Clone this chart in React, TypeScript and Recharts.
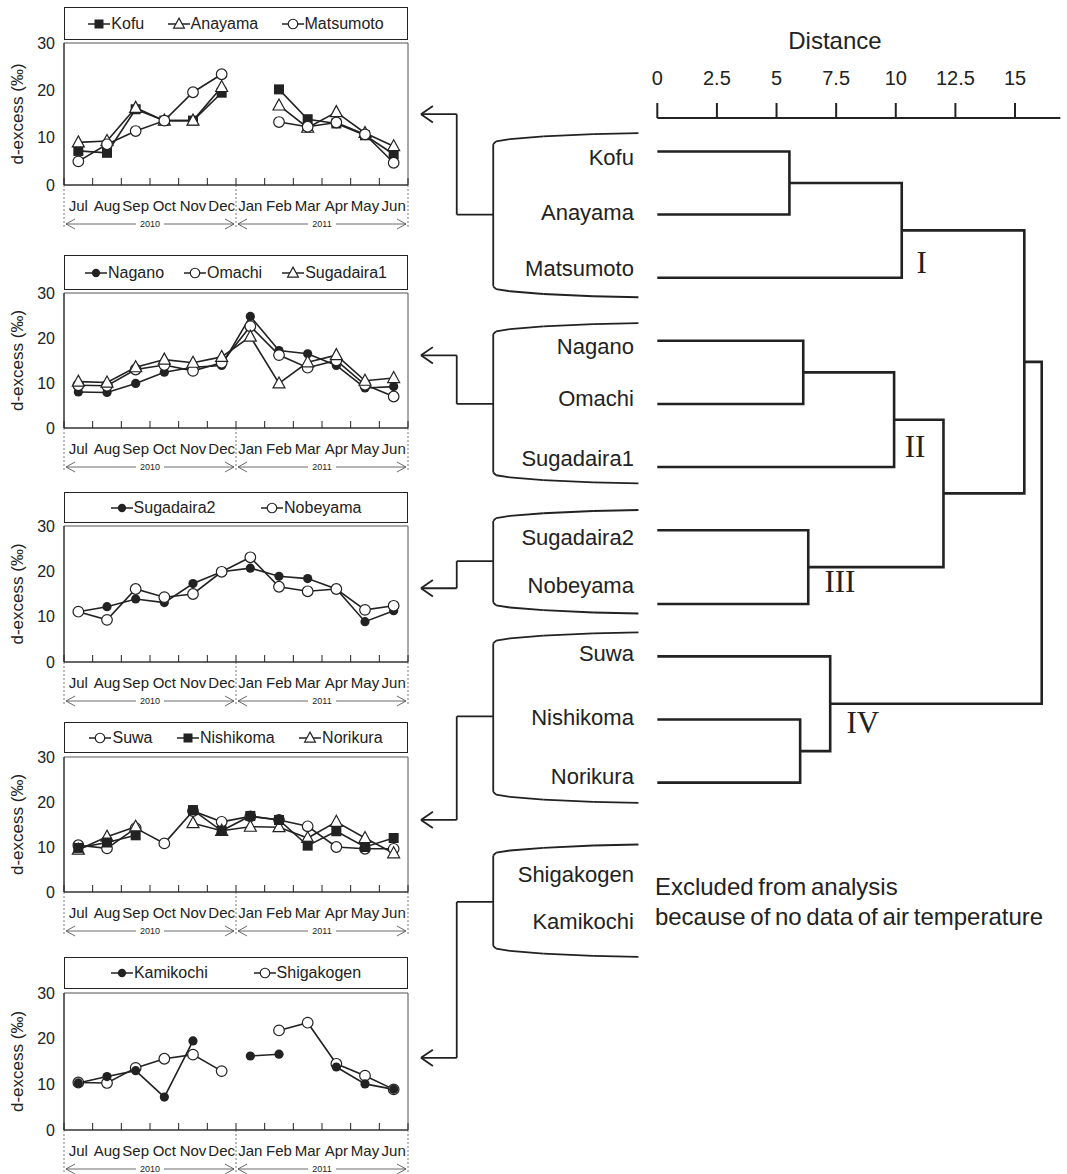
import React from 'react'
import {
  LineChart, ComposedChart, Line, XAxis, YAxis, Legend,
  ReferenceArea, ReferenceLine, ReferenceDot,
} from 'recharts'

const FONT = '"Liberation Sans", Arial, Helvetica, sans-serif'
const SERIF = '"Liberation Serif", "Times New Roman", serif'
const INK = '#222'

// ---------- monthly d-excess panels ----------
const months = ['Jul', 'Aug', 'Sep', 'Oct', 'Nov', 'Dec', 'Jan', 'Feb', 'Mar', 'Apr', 'May', 'Jun']
const years = ['2010', '2011']
const dTicks = [0, 10, 20, 30]
const monthEdges = [0, 1, 2, 3, 4, 5, 6, 7, 8, 9, 10, 11, 12]

const kofu = [7.2, 6.8, 16.0, 13.6, 13.6, 19.5, null, 20.2, 13.9, 13.0, 10.5, 6.5]
const anayama = [9.0, 9.3, 16.3, 13.6, 13.6, 20.7, null, 16.8, 12.1, 15.4, 11.0, 8.2]
const matsumoto = [5.0, 8.6, 11.4, 13.6, 19.6, 23.4, null, 13.3, 12.3, 13.2, 10.7, 4.7]

const nagano = [8.0, 7.9, 9.9, 12.4, 13.5, 13.9, 24.8, 17.2, 16.5, 13.9, 8.9, 9.2]
const omachi = [9.5, 9.4, 13.0, 14.0, 12.7, 14.5, 22.6, 16.2, 13.4, 15.0, 9.6, 7.0]
const sugadaira1 = [10.3, 10.1, 13.5, 15.2, 14.5, 15.8, 20.3, 9.9, 14.6, 16.2, 10.5, 11.1]

const sugadaira2 = [11.1, 12.2, 13.9, 13.1, 17.3, 19.9, 20.7, 18.9, 18.4, 16.1, 8.9, 11.3]
const nobeyama = [11.1, 9.3, 16.1, 14.3, 15.0, 19.9, 23.1, 16.6, 15.6, 16.1, 11.5, 12.4]

const suwa = [10.4, 9.7, 14.2, 10.8, 18.0, 15.6, 16.8, 16.0, 14.6, 10.0, 9.6, 9.6]
const nishikoma = [9.8, 11.0, 12.6, null, 18.2, 13.6, 16.9, 16.0, 10.3, 13.5, 10.0, 12.0]
const norikura = [9.4, 12.3, 14.5, null, 15.3, 13.6, 14.5, 14.4, 12.0, 15.6, 12.0, 8.6]

const kamikochi = [10.3, 11.7, 13.0, 7.2, 19.5, null, 16.2, 16.6, null, 13.8, 10.1, 8.9]
const shigakogen = [10.4, 10.3, 13.6, 15.6, 16.5, 12.9, null, 21.8, 23.5, 14.5, 11.9, 8.9]

type Marker = 'square' | 'triangle' | 'circle' | 'dot'
interface Series { name: string; values: (number | null)[]; marker: Marker }
interface PanelCfg { top: number; legendH: number; plotTop: number; plotH: number; series: Series[]; drawOrder: string[] }

const panels: PanelCfg[] = [
  {
    top: 7, legendH: 33, plotTop: 43, plotH: 142,
    series: [
      { name: 'Kofu', values: kofu, marker: 'square' },
      { name: 'Anayama', values: anayama, marker: 'triangle' },
      { name: 'Matsumoto', values: matsumoto, marker: 'circle' },
    ],
    drawOrder: ['Kofu', 'Anayama', 'Matsumoto'],
  },
  {
    top: 255, legendH: 35, plotTop: 293, plotH: 135,
    series: [
      { name: 'Nagano', values: nagano, marker: 'dot' },
      { name: 'Omachi', values: omachi, marker: 'circle' },
      { name: 'Sugadaira1', values: sugadaira1, marker: 'triangle' },
    ],
    drawOrder: ['Nagano', 'Omachi', 'Sugadaira1'],
  },
  {
    top: 492, legendH: 31, plotTop: 526, plotH: 136,
    series: [
      { name: 'Sugadaira2', values: sugadaira2, marker: 'dot' },
      { name: 'Nobeyama', values: nobeyama, marker: 'circle' },
    ],
    drawOrder: ['Sugadaira2', 'Nobeyama'],
  },
  {
    top: 722, legendH: 31, plotTop: 757, plotH: 135,
    series: [
      { name: 'Suwa', values: suwa, marker: 'circle' },
      { name: 'Nishikoma', values: nishikoma, marker: 'square' },
      { name: 'Norikura', values: norikura, marker: 'triangle' },
    ],
    drawOrder: ['Suwa', 'Norikura', 'Nishikoma'],
  },
  {
    top: 957, legendH: 32, plotTop: 993, plotH: 137,
    series: [
      { name: 'Kamikochi', values: kamikochi, marker: 'dot' },
      { name: 'Shigakogen', values: shigakogen, marker: 'circle' },
    ],
    drawOrder: ['Shigakogen', 'Kamikochi'],
  },
]

const PANEL_W = 420
const PANEL_LEFT = 14
const YAXIS_W = 50
const PANEL_RIGHT = 12
const PLOT_W = PANEL_W - PANEL_LEFT - YAXIS_W - PANEL_RIGHT
const BAND = PLOT_W / months.length
const XAXIS_H = 48

function Mark({ kind, cx, cy, s = 1 }: { kind: Marker; cx: number; cy: number; s?: number }) {
  switch (kind) {
    case 'square':
      return <rect x={cx - 5 * s} y={cy - 5 * s} width={10 * s} height={10 * s} fill={INK} />
    case 'triangle':
      return (
        <polygon
          points={`${cx},${cy - 6.5 * s} ${cx + 6 * s},${cy + 4.5 * s} ${cx - 6 * s},${cy + 4.5 * s}`}
          fill="#fff" stroke={INK} strokeWidth={1.2}
        />
      )
    case 'circle':
      return <circle cx={cx} cy={cy} r={5.3 * s} fill="#fff" stroke={INK} strokeWidth={1.2} />
    default:
      return <circle cx={cx} cy={cy} r={4.6 * s} fill={INK} />
  }
}

const dotFor = (kind: Marker) => (p: any) => {
  if (p.cx == null || p.cy == null || p.value == null) return <g key={`e${p.index}`} />
  return (
    <g key={`m${p.index}`}>
      <Mark kind={kind} cx={p.cx} cy={p.cy} />
    </g>
  )
}

function LegendBox({ series, h }: { series: Series[]; h: number }) {
  return (
    <div
      style={{
        boxSizing: 'border-box', width: PLOT_W, height: h, border: `1px solid ${INK}`,
        display: 'flex', alignItems: 'center', justifyContent: 'space-evenly',
        fontFamily: FONT, fontSize: 16, color: INK, background: '#fff',
      }}
    >
      {series.map((s) => (
        <span key={s.name} style={{ display: 'flex', alignItems: 'center', whiteSpace: 'nowrap' }}>
          <svg width={22} height={14} style={{ marginRight: 1 }}>
            <line x1={0} y1={7} x2={22} y2={7} stroke={INK} strokeWidth={1.5} />
            <Mark kind={s.marker} cx={11} cy={7} s={0.9} />
          </svg>
          {s.name}
        </span>
      ))}
    </div>
  )
}

// month labels sit between the boundary ticks; year arrows hang under the axis
function MonthTick({ x, payload, axisY }: any) {
  const v = payload.value as number
  const yr = axisY + 39
  return (
    <g>
      {v < months.length && (
        <text x={x + BAND / 2} y={axisY + 26} textAnchor="middle" fontSize={15} fontFamily={FONT} fill={INK}>
          {months[v]}
        </text>
      )}
      {v % 6 === 0 && (
        <line x1={x} y1={axisY} x2={x} y2={axisY + 44} stroke="#555" strokeWidth={0.8} strokeDasharray="2 2" />
      )}
      {v % 6 === 0 && v < months.length && (() => {
        const x0 = x + 2
        const x1 = x + 6 * BAND - 2
        const xm = (x0 + x1) / 2
        return (
          <g stroke="#444" strokeWidth={0.8} fill="none">
            <line x1={x0} y1={yr} x2={xm - 14} y2={yr} />
            <line x1={xm + 14} y1={yr} x2={x1} y2={yr} />
            <polyline points={`${x0 + 9},${yr - 5} ${x0},${yr} ${x0 + 9},${yr + 5}`} />
            <polyline points={`${x1 - 9},${yr - 5} ${x1},${yr} ${x1 - 9},${yr + 5}`} />
            <text x={xm} y={yr + 3} textAnchor="middle" fontSize={9} fontFamily={FONT} fill={INK} stroke="none">
              {years[v / 6]}
            </text>
          </g>
        )
      })()}
    </g>
  )
}

function Panel({ cfg }: { cfg: PanelCfg }) {
  const mTop = cfg.plotTop - cfg.top
  const height = mTop + cfg.plotH + XAXIS_H
  const axisY = mTop + cfg.plotH
  const data = months.map((m, i) => {
    const row: any = { x: i + 0.5, month: m }
    cfg.series.forEach((s) => { row[s.name] = s.values[i] })
    return row
  })
  const byName: Record<string, Series> = {}
  cfg.series.forEach((s) => { byName[s.name] = s })

  return (
    <div style={{ position: 'absolute', left: 0, top: cfg.top }}>
      <LineChart
        width={PANEL_W}
        height={height}
        data={data}
        margin={{ top: mTop, right: PANEL_RIGHT, bottom: 0, left: PANEL_LEFT }}
      >
        <XAxis
          type="number"
          dataKey="x"
          domain={[0, 12]}
          ticks={monthEdges}
          interval={0}
          tickSize={-7}
          tickMargin={0}
          height={XAXIS_H}
          axisLine={{ stroke: INK }}
          tickLine={{ stroke: INK }}
          tick={(p: any) => <MonthTick {...p} axisY={axisY} />}
        />
        <YAxis
          type="number"
          domain={[0, 30]}
          ticks={dTicks}
          width={YAXIS_W}
          tickLine={false}
          tickMargin={3}
          axisLine={{ stroke: INK }}
          tick={{ fontSize: 16, fill: INK, fontFamily: FONT }}
          label={{
            value: 'd-excess (‰)', angle: -90, position: 'insideLeft', offset: 3,
            style: { textAnchor: 'middle', fontSize: 17, fill: INK, fontFamily: FONT },
          }}
        />
        <ReferenceArea x1={0} x2={12} y1={0} y2={30} fill="none" stroke="#555" strokeWidth={1} ifOverflow="visible" />
        <Legend
          layout="horizontal"
          verticalAlign="middle"
          align="center"
          wrapperStyle={{ top: 0, left: PANEL_LEFT + YAXIS_W, width: PLOT_W, height: cfg.legendH }}
          content={() => <LegendBox series={cfg.series} h={cfg.legendH} />}
        />
        {cfg.drawOrder.map((n) => (
          <Line
            key={n}
            dataKey={n}
            type="linear"
            stroke={INK}
            strokeWidth={1.6}
            dot={dotFor(byName[n].marker)}
            activeDot={false}
            isAnimationActive={false}
          />
        ))}
      </LineChart>
    </div>
  )
}

// ---------- cluster dendrogram ----------
const leaves = ['Kofu', 'Anayama', 'Matsumoto', 'Nagano', 'Omachi', 'Sugadaira1', 'Sugadaira2', 'Nobeyama', 'Suwa', 'Nishikoma', 'Norikura']
const leafRows = [1, 2, 3, 4, 5, 6, 7, 8.17, 9, 10, 11]
const leafLabelRows = [1.1, 1.96, 2.86, 4.09, 4.91, 5.86, 7.11, 7.87, 8.96, 9.96, 10.91]
const excludedLeaves = ['Shigakogen', 'Kamikochi']
const excludedRows = [12.46, 13.2]
const excludedNote = ['Excluded from analysis', 'because of no data of air temperature']
const noteRows = [12.65, 13.12]
const distanceTicks = [0, 2.5, 5, 7.5, 10, 12.5, 15]

const merges = [
  { id: 'KA', a: 'Kofu', b: 'Anayama', h: 5.54 },
  { id: 'I', a: 'KA', b: 'Matsumoto', h: 10.25 },
  { id: 'NO', a: 'Nagano', b: 'Omachi', h: 6.12 },
  { id: 'II', a: 'NO', b: 'Sugadaira1', h: 9.93 },
  { id: 'III', a: 'Sugadaira2', b: 'Nobeyama', h: 6.33 },
  { id: 'II+III', a: 'II', b: 'III', h: 12.0 },
  { id: 'I+II+III', a: 'I', b: 'II+III', h: 15.39 },
  { id: 'NN', a: 'Nishikoma', b: 'Norikura', h: 5.99 },
  { id: 'IV', a: 'Suwa', b: 'NN', h: 7.25 },
  { id: 'root', a: 'I+II+III', b: 'IV', h: 16.12 },
]

const clusterTags = ['I', 'II', 'III', 'IV']
const tagX = [11.09, 10.81, 7.66, 8.62]
const tagRow = [2.76, 5.68, 7.82, 10.05]

// brackets grouping the leaves, with arrows back to the monthly panels
const groupTop = [0.71, 3.72, 6.68, 8.62, 11.98]
const groupBottom = [3.31, 6.26, 8.32, 11.32, 13.76]
const groupMid = [2.0, 5.0, 7.49, 9.95, 12.89]
const arrowRow = [0.41, 4.23, 7.92, 11.59, 15.36]

const DEND_LEFT = 410
const DEND_W = 1067 - DEND_LEFT
const DEND_H = 1174
const X_DOMAIN: [number, number] = [-10.37, 17.18]
const Y_DOMAIN: [number, number] = [0.47, 17.2]
const AXIS_END = 16.9
const BRACKET_X = -6.88
const CONNECT_X = -8.41
const TIP_X = -9.91
const LABEL_X = -0.98
const NOTE_X = -0.1
const curve = [[0, 0.174], [0.12, 0.13], [0.7, 0.095], [2.1, 0.052], [4.19, 0.016], [6.09, 0]]

type Pt = { x: number; y: number }

const nodes: Record<string, Pt> = {}
leaves.forEach((n, i) => { nodes[n] = { x: 0, y: leafRows[i] } })
const links = merges.map((m) => {
  const a = nodes[m.a]
  const b = nodes[m.b]
  nodes[m.id] = { x: m.h, y: (a.y + b.y) / 2 }
  return { id: m.id, pts: [{ x: a.x, y: a.y }, { x: m.h, y: a.y }, { x: m.h, y: b.y }, { x: b.x, y: b.y }] }
})

const segments: [Pt, Pt][] = []
const polyline = (pts: Pt[]) => {
  for (let i = 0; i < pts.length - 1; i++) segments.push([pts[i], pts[i + 1]])
}
groupTop.forEach((top, g) => {
  const bot = groupBottom[g]
  const topCurve = curve.map(([dx, dy]) => ({ x: BRACKET_X + dx, y: top + dy }))
  const botCurve = curve.map(([dx, dy]) => ({ x: BRACKET_X + dx, y: bot - dy }))
  polyline(topCurve)
  polyline(botCurve)
  polyline([topCurve[0], botCurve[0]])
  const ay = arrowRow[g]
  polyline([{ x: BRACKET_X, y: groupMid[g] }, { x: CONNECT_X, y: groupMid[g] }, { x: CONNECT_X, y: ay }, { x: TIP_X, y: ay }])
  polyline([{ x: TIP_X + 0.5, y: ay - 0.13 }, { x: TIP_X, y: ay }, { x: TIP_X + 0.5, y: ay + 0.13 }])
})

const textShape = (text: string, style: any) => (p: any) => (
  <text x={p.cx} y={p.cy} dominantBaseline="central" fill={INK} {...style}>{text}</text>
)

function Dendrogram() {
  return (
    <div style={{ position: 'absolute', left: DEND_LEFT, top: 0 }}>
      <ComposedChart width={DEND_W} height={DEND_H} margin={{ top: 0, right: 0, bottom: 0, left: 0 }}>
        <XAxis
          type="number"
          dataKey="x"
          orientation="top"
          domain={X_DOMAIN}
          ticks={distanceTicks}
          interval={0}
          height={118}
          tickSize={15}
          tickMargin={18}
          axisLine={false}
          tickLine={{ stroke: INK, strokeWidth: 2 }}
          tick={{ fontSize: 20, fill: INK, fontFamily: FONT }}
        />
        <YAxis type="number" domain={Y_DOMAIN} reversed hide />
        <ReferenceLine
          segment={[{ x: 0, y: Y_DOMAIN[0] }, { x: AXIS_END, y: Y_DOMAIN[0] }]}
          stroke={INK} strokeWidth={2} ifOverflow="visible"
        />
        {segments.map((s, i) => (
          <ReferenceLine key={`s${i}`} segment={s} stroke={INK} strokeWidth={1.8} ifOverflow="visible" />
        ))}
        {links.map((l) => (
          <Line
            key={l.id}
            data={l.pts}
            dataKey="y"
            type="linear"
            stroke={INK}
            strokeWidth={2.6}
            dot={false}
            activeDot={false}
            legendType="none"
            isAnimationActive={false}
          />
        ))}
        <ReferenceDot
          x={7.45} y={-0.755} r={0} ifOverflow="visible"
          shape={textShape('Distance', { textAnchor: 'middle', fontSize: 24, fontFamily: FONT })}
        />
        {leaves.map((n, i) => (
          <ReferenceDot
            key={n} x={LABEL_X} y={leafLabelRows[i]} r={0} ifOverflow="visible"
            shape={textShape(n, { textAnchor: 'end', fontSize: 22, fontFamily: FONT })}
          />
        ))}
        {excludedLeaves.map((n, i) => (
          <ReferenceDot
            key={n} x={LABEL_X} y={excludedRows[i]} r={0} ifOverflow="visible"
            shape={textShape(n, { textAnchor: 'end', fontSize: 22, fontFamily: FONT })}
          />
        ))}
        {excludedNote.map((t, i) => (
          <ReferenceDot
            key={t} x={NOTE_X} y={noteRows[i]} r={0} ifOverflow="visible"
            shape={textShape(t, { textAnchor: 'start', fontSize: 24, fontFamily: FONT, wordSpacing: -2 })}
          />
        ))}
        {clusterTags.map((t, i) => (
          <ReferenceDot
            key={t} x={tagX[i]} y={tagRow[i]} r={0} ifOverflow="visible"
            shape={textShape(t, { textAnchor: 'middle', fontSize: 31, fontFamily: SERIF })}
          />
        ))}
      </ComposedChart>
    </div>
  )
}

export default function App() {
  return (
    <div style={{ position: 'absolute', left: 0, top: 0, width: 1067, height: 1174, background: '#fff', overflow: 'hidden' }}>
      {panels.map((p, i) => <Panel key={i} cfg={p} />)}
      <Dendrogram />
    </div>
  )
}
